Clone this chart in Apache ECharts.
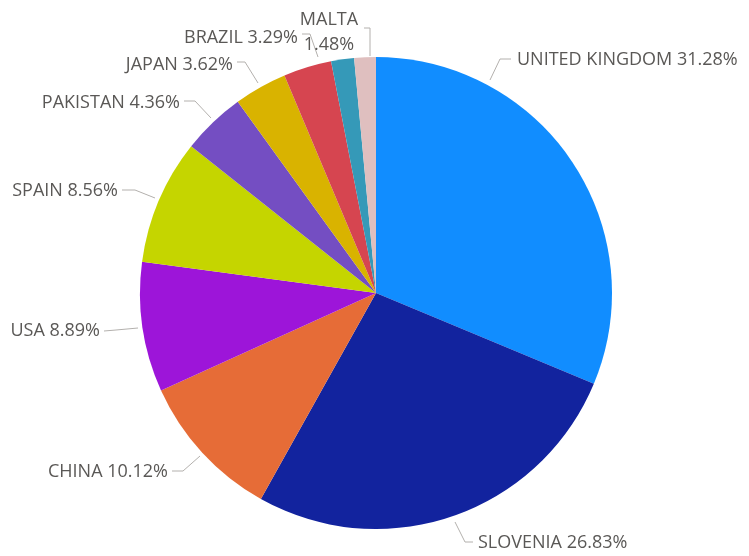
<!DOCTYPE html>
<html>
<head>
<meta charset="utf-8">
<script src="https://cdn.jsdelivr.net/npm/echarts@6/dist/echarts.min.js"></script>
<style>
  html, body { margin: 0; padding: 0; background: #fff; }
  #chart { width: 749px; height: 556px; }
</style>
</head>
<body>
<div id="chart"></div>
<script>
// Country shares (percent), clockwise from 12 o'clock
const countries = ['UNITED KINGDOM', 'SLOVENIA', 'CHINA', 'USA', 'SPAIN', 'PAKISTAN', 'JAPAN', 'BRAZIL', 'OTHER', 'MALTA'];
const shares = [31.28, 26.83, 10.12, 8.89, 8.56, 4.36, 3.62, 3.29, 1.57, 1.48];
const colors = ['#118DFF', '#12239E', '#E66C37', '#9D15D9', '#C5D500', '#744EC2', '#D9B300', '#D64550', '#3599B8', '#DFBFBF'];
const hiddenLabels = ['OTHER'];

// Where each outside label sits, and the elbow of its leader line
const labelPlacement = {
  'UNITED KINGDOM': { x: 517, y: 60,  align: 'left',   line: [[490, 80], [500, 59], [511, 59]] },
  'SLOVENIA':       { x: 478, y: 543, align: 'left',   line: [[455, 522], [465, 542], [473, 542]] },
  'CHINA':          { x: 168, y: 472, align: 'right',  line: [[200, 456], [183, 471], [172, 471]] },
  'USA':            { x: 100, y: 331, align: 'right',  line: [[138, 328], [116, 330], [104, 331]] },
  'SPAIN':          { x: 118, y: 191, align: 'right',  line: [[155, 198], [135, 190], [122, 190]] },
  'PAKISTAN':       { x: 180, y: 103, align: 'right',  line: [[211, 118], [195, 101], [184, 101]] },
  'JAPAN':          { x: 233, y: 65,  align: 'right',  line: [[258, 83], [245, 62], [237, 62]] },
  'BRAZIL':         { x: 298, y: 38,  align: 'right',  line: [[318, 57], [310, 34], [302, 34]] },
  'MALTA':          { x: 329, y: 32,  align: 'center', line: [[370, 56], [370, 28], [364, 28]] }
};

const chart = echarts.init(document.getElementById('chart'));

const data = countries.map((name, i) => ({
  name: name,
  value: shares[i],
  itemStyle: { color: colors[i] },
  label: { show: hiddenLabels.indexOf(name) < 0 },
  labelLine: { show: hiddenLabels.indexOf(name) < 0 }
}));

chart.setOption({
  animation: false,
  series: [{
    type: 'pie',
    center: [376, 293],
    radius: 236,
    startAngle: 90,
    clockwise: true,
    data: data,
    itemStyle: { borderWidth: 0 },
    label: {
      show: true,
      position: 'outside',
      color: '#5A5856',
      fontFamily: 'Open Sans',
      fontSize: 18,
      lineHeight: 25,
      overflow: 'none',
      formatter: p => p.name === 'MALTA'
        ? p.name + '\n' + p.value.toFixed(2) + '%'
        : p.name + ' ' + p.value.toFixed(2) + '%'
    },
    labelLine: {
      length: 12,
      length2: 14,
      lineStyle: { color: '#B3B0AD', width: 1 }
    },
    labelLayout: function (params) {
      const name = countries[params.dataIndex];
      const place = labelPlacement[name];
      if (!place) return {};
      return {
        x: place.x,
        y: place.y,
        align: place.align,
        verticalAlign: 'middle',
        labelLinePoints: place.line
      };
    },
    emphasis: { disabled: true }
  }]
});
</script>
</body>
</html>
